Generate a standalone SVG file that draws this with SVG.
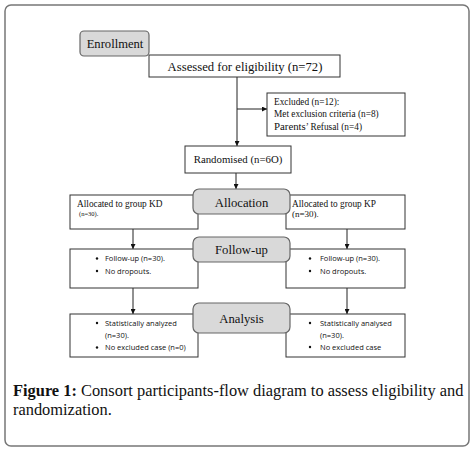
<svg xmlns="http://www.w3.org/2000/svg" width="476" height="453" viewBox="0 0 476 453">
<defs>
<marker id="ah" viewBox="0 0 6 6" refX="6" refY="3" markerWidth="5" markerHeight="5" orient="auto" markerUnits="userSpaceOnUse">
<path d="M0,0 L6,3 L0,6 z" fill="#111"/>
</marker>
<style>
.box{fill:#fff;stroke:#333;stroke-width:1}
.stage{fill:#d9d9d9;stroke:#666;stroke-width:1.2}
.serif{font-family:"Liberation Serif","Times New Roman",serif;fill:#111}
.sans{font-family:"Open Sans","Liberation Sans",Arial,sans-serif;fill:#111;font-size:7.5px}
.conn{stroke:#222;stroke-width:1;fill:none;marker-end:url(#ah)}
</style>
</defs>
<rect x="0" y="0" width="476" height="453" fill="#fff"/>
<rect x="5" y="5" width="464" height="441" rx="6" fill="#fff" stroke="#777" stroke-width="1.5"/>

<g id="connectors">
<line class="conn" x1="237" y1="77" x2="237" y2="146"/>
<line class="conn" x1="237" y1="109" x2="267" y2="109"/>
<line class="conn" x1="236" y1="173" x2="236" y2="189"/>
<line class="conn" x1="133" y1="229" x2="133" y2="249"/>
<line class="conn" x1="347" y1="229" x2="347" y2="249"/>
<line class="conn" x1="133" y1="288" x2="133" y2="314"/>
<line class="conn" x1="347" y1="288" x2="347" y2="314"/>
</g>

<g id="assessed">
<rect class="box" x="149" y="55" width="191" height="22"/>
<text class="serif" x="245" y="71" font-size="12.7" text-anchor="middle">Assessed for eligibility (n=72)</text>
</g>
<g id="enrollment">
<rect class="stage" x="80" y="31" width="69" height="25" rx="4"/>
<text class="serif" x="115" y="48" font-size="12.6" text-anchor="middle">Enrollment</text>
</g>

<g id="excluded">
<rect class="box" x="267" y="93" width="138" height="43"/>
<text class="serif" x="274" y="105" font-size="9.3">Excluded (n=12):</text>
<text class="serif" x="274" y="117" font-size="9.3">Met exclusion criteria (n=8)</text>
<text class="serif" x="274" y="130" font-size="9.3"><tspan font-size="10.8">Parents</tspan>’ Refusal (n=4)</text>
</g>

<g id="randomised">
<rect class="box" x="185" y="146" width="106" height="27"/>
<text class="serif" x="238" y="163" font-size="10.8" text-anchor="middle">Randomised (n=6O)</text>
</g>

<g id="kd">
<rect class="box" x="70" y="195" width="128" height="34"/>
<text class="serif" x="77" y="207" font-size="9.3">Allocated to group KD</text>
<text class="serif" x="79" y="216" font-size="6.5">(n=30).</text>
</g>
<g id="kp">
<rect class="box" x="286" y="195" width="119" height="34"/>
<text class="serif" x="292" y="207" font-size="9.3">Allocated to group KP</text>
<text class="serif" x="292" y="217" font-size="9">(n=30).</text>
</g>
<g id="allocation">
<rect class="stage" x="193" y="189" width="97" height="25" rx="6"/>
<text class="serif" x="241.5" y="207" font-size="12.7" text-anchor="middle">Allocation</text>
</g>

<g id="followup-left">
<rect class="box" x="70" y="249" width="128" height="39"/>
<circle cx="97" cy="258.5" r="1.2" fill="#111"/>
<text class="sans" x="105" y="261">Follow-up (n=30).</text>
<circle cx="97" cy="271" r="1.2" fill="#111"/>
<text class="sans" x="105" y="273.5">No dropouts.</text>
</g>
<g id="followup-right">
<rect class="box" x="286" y="249" width="119" height="39"/>
<circle cx="310" cy="258.5" r="1.2" fill="#111"/>
<text class="sans" x="320" y="261">Follow-up (n=30).</text>
<circle cx="310" cy="271" r="1.2" fill="#111"/>
<text class="sans" x="320" y="273.5">No dropouts.</text>
</g>
<g id="followup">
<rect class="stage" x="193" y="237" width="97" height="25" rx="6"/>
<text class="serif" x="241.5" y="254" font-size="12.7" text-anchor="middle">Follow-up</text>
</g>

<g id="analysis-left">
<rect class="box" x="70" y="314" width="128" height="43"/>
<circle cx="97" cy="323" r="1.2" fill="#111"/>
<text class="sans" x="105" y="325.5">Statistically analyzed</text>
<text class="sans" x="105" y="337.5">(n=30).</text>
<circle cx="97" cy="347.5" r="1.2" fill="#111"/>
<text class="sans" x="105" y="350">No excluded case (n=0)</text>
</g>
<g id="analysis-right">
<rect class="box" x="286" y="314" width="119" height="43"/>
<circle cx="310" cy="323" r="1.2" fill="#111"/>
<text class="sans" x="320" y="325.5">Statistically analysed</text>
<text class="sans" x="320" y="337.5">(n=30).</text>
<circle cx="310" cy="347" r="1.2" fill="#111"/>
<text class="sans" x="320" y="349.5">No excluded case</text>
</g>
<g id="analysis">
<rect class="stage" x="193" y="303" width="97" height="30" rx="6"/>
<text class="serif" x="241.5" y="323" font-size="12.7" text-anchor="middle">Analysis</text>
</g>

<g id="caption">
<text class="serif" x="13" y="396" font-size="16.4"><tspan font-weight="bold">Figure 1:</tspan> Consort participants-flow diagram to assess eligibility and</text>
<text class="serif" x="13" y="415" font-size="16.4">randomization.</text>
</g>
</svg>
